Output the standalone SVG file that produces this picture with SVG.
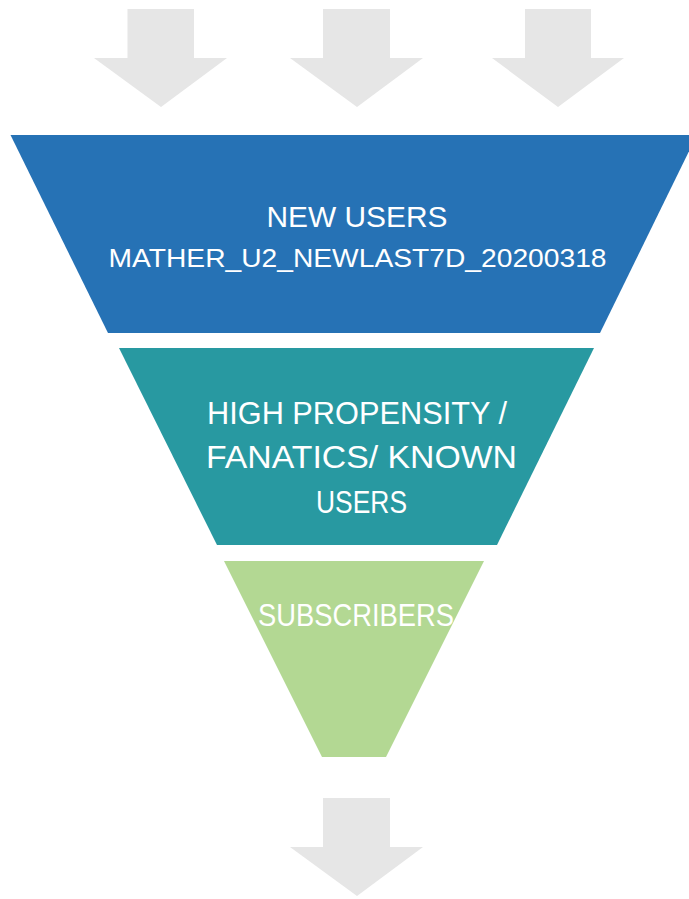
<svg xmlns="http://www.w3.org/2000/svg" width="689" height="899" viewBox="0 0 689 899">
<style>
.arrow{fill:#e6e6e6}
.lbl{font-family:"Liberation Sans",Arial,sans-serif;fill:#ffffff;text-anchor:middle}
</style>
<rect width="689" height="899" fill="#ffffff"/>
<g id="connectors">
<polygon class="arrow" points="127.5,9 194,9 194,58 227,58 161,107 94,58 127.5,58"/>
<polygon class="arrow" points="323,9 390,9 390,58 423,58 357,107 290,58 323,58"/>
<polygon class="arrow" points="525,9 591,9 591,58 624,58 558,107 492,58 525,58"/>
<polygon class="arrow" points="323,798 390,798 390,847 423,847 357,896 290,847 323,847"/>
</g>
<g id="new-users">
<polygon points="10.5,135 697,135 600,333 108,333" fill="#2672b5"/>
<text class="lbl" x="357" y="227" font-size="30" textLength="181" lengthAdjust="spacingAndGlyphs">NEW USERS</text>
<text class="lbl" x="357.5" y="267" font-size="26" textLength="498" lengthAdjust="spacingAndGlyphs">MATHER_U2_NEWLAST7D_20200318</text>
</g>
<g id="high-propensity">
<polygon points="119,348 594,348 497,545 217,545" fill="#2899a1"/>
<text class="lbl" x="357" y="424" font-size="31" textLength="300" lengthAdjust="spacingAndGlyphs">HIGH PROPENSITY /</text>
<text class="lbl" x="361.5" y="468" font-size="31" textLength="311" lengthAdjust="spacingAndGlyphs">FANATICS/ KNOWN</text>
<text class="lbl" x="361.5" y="513" font-size="31" textLength="91" lengthAdjust="spacingAndGlyphs">USERS</text>
</g>
<g id="subscribers">
<polygon points="224,561 484,561 386,757 322,757" fill="#b3d893"/>
<text class="lbl" x="356" y="626" font-size="31" textLength="196" lengthAdjust="spacingAndGlyphs">SUBSCRIBERS</text>
</g>
</svg>
